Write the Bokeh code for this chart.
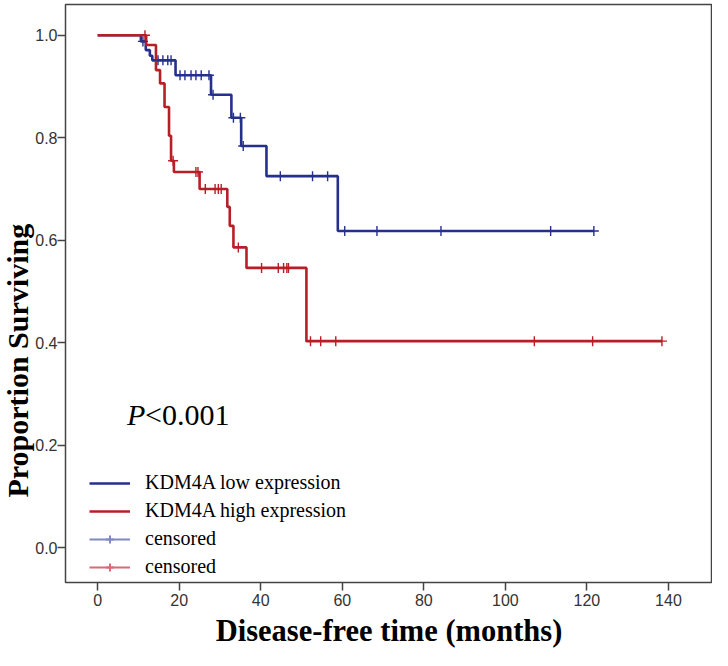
from bokeh.plotting import figure
from bokeh.models import (Range1d, FixedTicker, PrintfTickFormatter, Legend, LegendItem,
                          Label, Title)
from bokeh.embed import file_html
from bokeh.resources import INLINE

# ---- data ----
x_ticks = [0, 20, 40, 60, 80, 100, 120, 140]
y_ticks = [0.0, 0.2, 0.4, 0.6, 0.8, 1.0]

# KDM4A low expression (blue): step times (months) and survival after each step
low_time = [0, 10.6, 11.8, 12.8, 13.4, 19.1, 27.8, 32.8, 35.2, 41.4, 58.9, 121.7]
low_surv = [1.0, 0.988, 0.971, 0.960, 0.951, 0.922, 0.884, 0.839, 0.784, 0.725, 0.618, 0.618]
low_cens_time = [11.1, 14.8, 16.0, 17.2, 18.0, 20.2, 21.4, 22.9, 24.1, 25.4, 27.3, 28.3,
                 33.3, 35.0, 35.7, 44.8, 52.7, 56.4, 60.6, 68.5, 84.2, 111.1, 121.7]
low_cens_surv = [0.988, 0.951, 0.951, 0.951, 0.951, 0.922, 0.922, 0.922, 0.922, 0.922, 0.922, 0.884,
                 0.839, 0.839, 0.784, 0.725, 0.725, 0.725, 0.618, 0.618, 0.618, 0.618, 0.618]

# KDM4A high expression (red)
high_time = [0, 11.9, 14.3, 15.3, 16.4, 17.5, 18.0, 18.7, 25.0, 31.8, 32.4, 33.3, 36.5, 51.2, 138.4]
high_surv = [1.0, 0.981, 0.932, 0.906, 0.860, 0.804, 0.755, 0.733, 0.700, 0.665, 0.628, 0.586, 0.546, 0.403, 0.403]
high_cens_time = [11.6, 18.5, 24.1, 24.6, 26.4, 28.8, 29.6, 30.3, 34.5, 40.2, 44.3, 45.6, 46.4, 46.8,
                  52.2, 54.7, 58.4, 107.1, 121.4, 138.4]
high_cens_surv = [1.0, 0.755, 0.733, 0.733, 0.700, 0.700, 0.700, 0.700, 0.586, 0.546, 0.546, 0.546, 0.546, 0.546,
                  0.403, 0.403, 0.403, 0.403, 0.403, 0.403]

x_title = "Disease-free time (months)"
y_title = "Proportion Surviving"
p_value_pos = (7.2, 0.227)
NAN = [float("nan")]

BLUE = "#25308c"
RED = "#b71f27"
BLUE_LIGHT = "#7f88c4"
RED_LIGHT = "#d86a76"
AXIS = "#444444"

p = figure(width=712, height=650, output_backend="svg", toolbar_location=None,
           x_range=Range1d(-7.89, 150.8), y_range=Range1d(-0.068, 1.06),
           min_border_left=0, min_border_right=0, min_border_top=4, min_border_bottom=0)
p.grid.visible = False
p.outline_line_color = AXIS
p.outline_line_width = 1.5
p.background_fill_color = "white"

for ax in (p.xaxis[0], p.yaxis[0]):
    ax.axis_line_color = None
    ax.major_tick_line_color = AXIS
    ax.major_tick_line_width = 1.5
    ax.major_tick_out = 8
    ax.major_tick_in = 0
    ax.minor_tick_line_color = None
    ax.major_label_text_font = "Liberation Sans"
    ax.major_label_text_font_size = "16px"
    ax.major_label_text_color = "#333333"

p.xaxis.ticker = FixedTicker(ticks=x_ticks)
p.yaxis.ticker = FixedTicker(ticks=y_ticks)
p.yaxis.formatter = PrintfTickFormatter(format="%.1f")
p.xaxis.major_label_standoff = 3
p.yaxis.major_label_standoff = 0

p.xaxis.axis_label = x_title
p.xaxis.axis_label_text_font = "Liberation Serif"
p.xaxis.axis_label_text_font_size = "30.5px"
p.xaxis.axis_label_text_font_style = "bold"
p.xaxis.axis_label_text_color = "black"
p.xaxis.axis_label_standoff = 5

ytitle = Title(text=y_title, align="left", offset=85,
               text_font="Liberation Serif", text_font_size="30px", text_font_style="bold",
               text_color="black", standoff=-3)
p.add_layout(ytitle, "left")

# curves
r_low = p.step(low_time, low_surv, mode="after", line_color=BLUE, line_width=2.6)
r_high = p.step(high_time, high_surv, mode="after", line_color=RED, line_width=2.6)
p.scatter(low_cens_time, low_cens_surv, marker="cross", size=10, line_color=BLUE, line_width=1.4)
p.scatter(high_cens_time, high_cens_surv, marker="cross", size=10, line_color=RED, line_width=1.4)

# legend-only renderers for "censored" (no visible data)
lg_bl = p.line(NAN, NAN, line_color=BLUE_LIGHT, line_width=2)
lg_bc = p.scatter(NAN, NAN, marker="cross", size=16, line_color=BLUE_LIGHT, line_width=2)
lg_rl = p.line(NAN, NAN, line_color=RED_LIGHT, line_width=2)
lg_rc = p.scatter(NAN, NAN, marker="cross", size=16, line_color=RED_LIGHT, line_width=2)

legend = Legend(items=[
    LegendItem(label="KDM4A low expression", renderers=[r_low]),
    LegendItem(label="KDM4A high expression", renderers=[r_high]),
    LegendItem(label="censored", renderers=[lg_bl, lg_bc]),
    LegendItem(label="censored", renderers=[lg_rl, lg_rc]),
], location=(24, 4), padding=0, margin=0, spacing=5, glyph_width=41, glyph_height=20,
   label_standoff=15, label_text_font="Liberation Serif", label_text_font_size="20px",
   label_text_color="black", border_line_color=None, background_fill_alpha=0,
   label_height=20)
p.add_layout(legend, "center")

p.add_layout(Label(x=p_value_pos[0], y=p_value_pos[1], text="P", text_font="Liberation Serif",
                   text_font_style="italic", text_font_size="30px", text_color="black"))
p.add_layout(Label(x=p_value_pos[0], y=p_value_pos[1], x_offset=18, text="<0.001",
                   text_font="Liberation Serif", text_font_size="30px", text_color="black"))

open("out.html", "w").write(file_html(p, INLINE))
